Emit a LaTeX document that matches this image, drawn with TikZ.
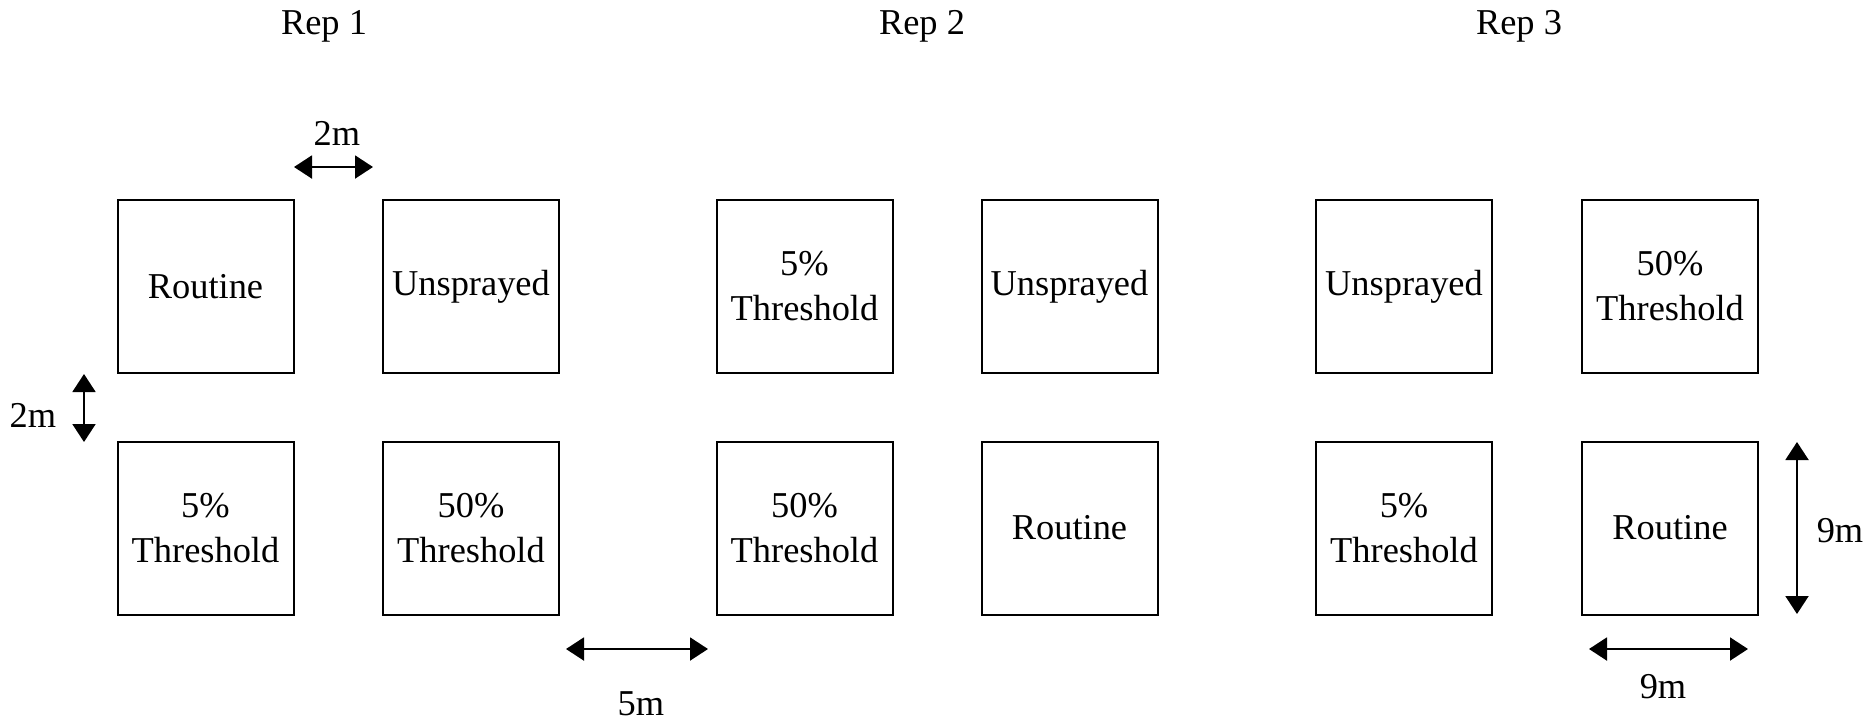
\documentclass[tikz,border=0pt]{standalone}
\usepackage{fontspec}
\setmainfont{Liberation Serif}
\usetikzlibrary{arrows.meta}
\begin{document}
\begin{tikzpicture}[x=0.5pt,y=-0.5pt,
  plot/.style={draw,line width=1pt,minimum width=88pt,minimum height=86.5pt,inner sep=0pt,align=center,
    font=\fontsize{18.2pt}{22.5pt}\selectfont},
  lbl/.style={inner sep=0pt,font=\fontsize{18.2pt}{22.5pt}\selectfont},
  dim/.style={line width=1pt,{Triangle[length=9pt,width=11.5pt]}-{Triangle[length=9pt,width=11.5pt]}}]
\useasboundingbox (0,0) rectangle (1865,720);
% reps
\node[lbl] (rep1) at (324,26) {Rep 1};
\node[lbl] (rep2) at (922,26) {Rep 2};
\node[lbl] (rep3) at (1519,26) {Rep 3};
% boxes
\node[plot] (a1) at (205.5,286.5) {Routine};
\node[plot] (a2) at (471,286.5) {Unsprayed};
\node[plot] (a3) at (205.5,528) {5\%\\Threshold};
\node[plot] (a4) at (471,528) {50\%\\Threshold};
\node[plot] (b1) at (804.5,286.5) {5\%\\Threshold};
\node[plot] (b2) at (1069.5,286.5) {Unsprayed};
\node[plot] (b3) at (804.5,528) {50\%\\Threshold};
\node[plot] (b4) at (1069.5,528) {Routine};
\node[plot] (c1) at (1404,286.5) {Unsprayed};
\node[plot] (c2) at (1670,286.5) {50\%\\Threshold};
\node[plot] (c3) at (1404,528) {5\%\\Threshold};
\node[plot] (c4) at (1670,528) {Routine};
% dimension arrows
\coordinate (h2a) at (294,167);
\coordinate (h2b) at (373,167);
\draw[dim] (h2a) -- (h2b);
\node[lbl] (t2m) at (337,133) {2m};
\coordinate (v2a) at (84,374);
\coordinate (v2b) at (84,442);
\draw[dim] (v2a) -- (v2b);
\node[lbl] (l2m) at (33,415) {2m};
\coordinate (h5a) at (566,649);
\coordinate (h5b) at (708,649);
\draw[dim] (h5a) -- (h5b);
\node[lbl] (l5m) at (641,704) {5m};
\coordinate (v9a) at (1797,442);
\coordinate (v9b) at (1797,614);
\draw[dim] (v9a) -- (v9b);
\node[lbl] (r9m) at (1840,531) {9m};
\coordinate (h9a) at (1589,649);
\coordinate (h9b) at (1748,649);
\draw[dim] (h9a) -- (h9b);
\node[lbl] (b9m) at (1663,687) {9m};
\end{tikzpicture}
\end{document}
